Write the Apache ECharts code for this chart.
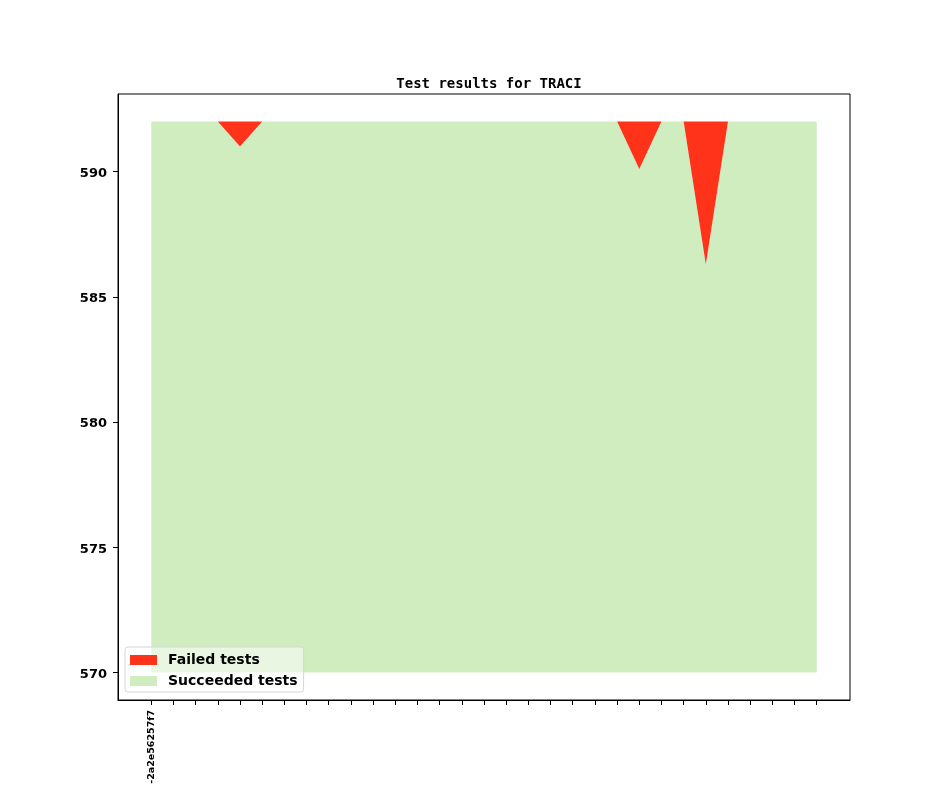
<!DOCTYPE html>
<html>
<head>
<meta charset="utf-8">
<script src="https://cdn.jsdelivr.net/npm/echarts@6/dist/echarts.min.js"></script>
<style>
  html, body { margin: 0; padding: 0; background: #fff; }
  #main { width: 944px; height: 787px; }
</style>
</head>
<body>
<div id="main"></div>
<script>
// commit positions along x, one per run
var runIndex = [0, 1, 2, 3, 4, 5, 6, 7, 8, 9, 10, 11, 12, 13, 14, 15,
                16, 17, 18, 19, 20, 21, 22, 23, 24, 25, 26, 27, 28, 29, 30];
// only the first commit is labelled in the picture
var commitLabels = ['-2a2e56257f7'];
var totalTests = [592, 592, 592, 592, 592, 592, 592, 592, 592, 592, 592,
                  592, 592, 592, 592, 592, 592, 592, 592, 592, 592, 592,
                  592, 592, 592, 592, 592, 592, 592, 592, 592];
var failedTests = [0, 0, 0, 0, 1, 0, 0, 0, 0, 0, 0,
                   0, 0, 0, 0, 0, 0, 0, 0, 0, 0, 0,
                   1.9, 0, 0, 5.7, 0, 0, 0, 0, 0];
var baseline = 570;
var yTicks = [570, 575, 580, 585, 590];

var chart = echarts.init(document.getElementById('main'));

// hidden category axis carries the stacked series; one empty slot each side
// gives the same 1.5 step margin as the visible value axis (-1.5 .. 31.5)
var cats = ['pad-left'], baseData = ['-'], okData = ['-'], failData = ['-'];
for (var i = 0; i < runIndex.length; i++) {
    cats.push('run' + runIndex[i]);
    baseData.push(baseline);
    okData.push(totalTests[i] - failedTests[i] - baseline);
    failData.push(failedTests[i]);
}
cats.push('pad-right'); baseData.push('-'); okData.push('-'); failData.push('-');

var font = 'DejaVu Sans';
var option = {
    animation: false,
    backgroundColor: '#fff',
    title: {
        text: 'Test results for TRACI',
        left: 484,
        textAlign: 'center',
        top: 72,
        textStyle: { fontFamily: 'DejaVu Sans Mono', fontWeight: 'bold', fontSize: 14, color: '#000' }
    },
    legend: {
        orient: 'vertical',
        left: 125,
        top: 647,
        data: ['Failed tests', 'Succeeded tests'],
        icon: 'rect',
        itemWidth: 27,
        itemHeight: 10,
        itemGap: 7,
        padding: [6, 6, 4, 5],
        backgroundColor: 'rgba(255,255,255,0.55)',
        borderColor: '#d6d6d6',
        borderWidth: 1,
        borderRadius: 3,
        textStyle: { fontFamily: font, fontWeight: 'bold', fontSize: 14, color: '#000', padding: [0, 0, 0, 6] }
    },
    grid: {
        left: 118, right: 94, top: 94, bottom: 87,
        outerBoundsMode: 'none',
        containLabel: false,
        show: true, borderColor: '#000', borderWidth: 1, backgroundColor: '#fff'
    },
    xAxis: [
        {
            type: 'category',
            data: cats,
            boundaryGap: true,
            show: false
        },
        {
            type: 'value',
            position: 'bottom',
            min: -1.5,
            max: 31.5,
            splitLine: { show: false },
            axisLine: { onZero: false, lineStyle: { color: '#000', width: 1 } },
            axisTick: { length: 5, lineStyle: { color: '#000' }, customValues: runIndex },
            axisLabel: {
                customValues: [0],
                rotate: 90,
                margin: 10,
                fontFamily: font, fontWeight: 'bold', fontSize: 9.5, color: '#000',
                formatter: function (v) { return commitLabels[Math.round(v)] || ''; }
            }
        }
    ],
    yAxis: {
        type: 'value',
        min: 568.9,
        max: 593.1,
        splitLine: { show: false },
        axisLine: { show: true, onZero: false, lineStyle: { color: '#000', width: 1 } },
        axisTick: { show: true, length: 5, lineStyle: { color: '#000' }, customValues: yTicks },
        axisLabel: {
            customValues: yTicks,
            margin: 11,
            formatter: function (v) { return '{v|' + v + '}'; },
            rich: {
                v: { padding: [4, 0, 0, 0], fontFamily: font, fontWeight: 'bold', fontSize: 13, color: '#000' }
            }
        }
    },
    series: [
        {
            name: 'base', type: 'line', stack: 'tests', data: baseData,
            showSymbol: false, silent: true,
            lineStyle: { width: 0, opacity: 0 }
        },
        {
            name: 'Succeeded tests', type: 'line', stack: 'tests', data: okData,
            showSymbol: false, color: '#cfedbf',
            lineStyle: { width: 0, opacity: 0 },
            areaStyle: { color: '#cfedbf', opacity: 1 }
        },
        {
            name: 'Failed tests', type: 'line', stack: 'tests', data: failData,
            showSymbol: false, color: '#ff331a',
            lineStyle: { width: 0, opacity: 0 },
            areaStyle: { color: '#ff331a', opacity: 1 }
        }
    ]
};
chart.setOption(option);
</script>
</body>
</html>
